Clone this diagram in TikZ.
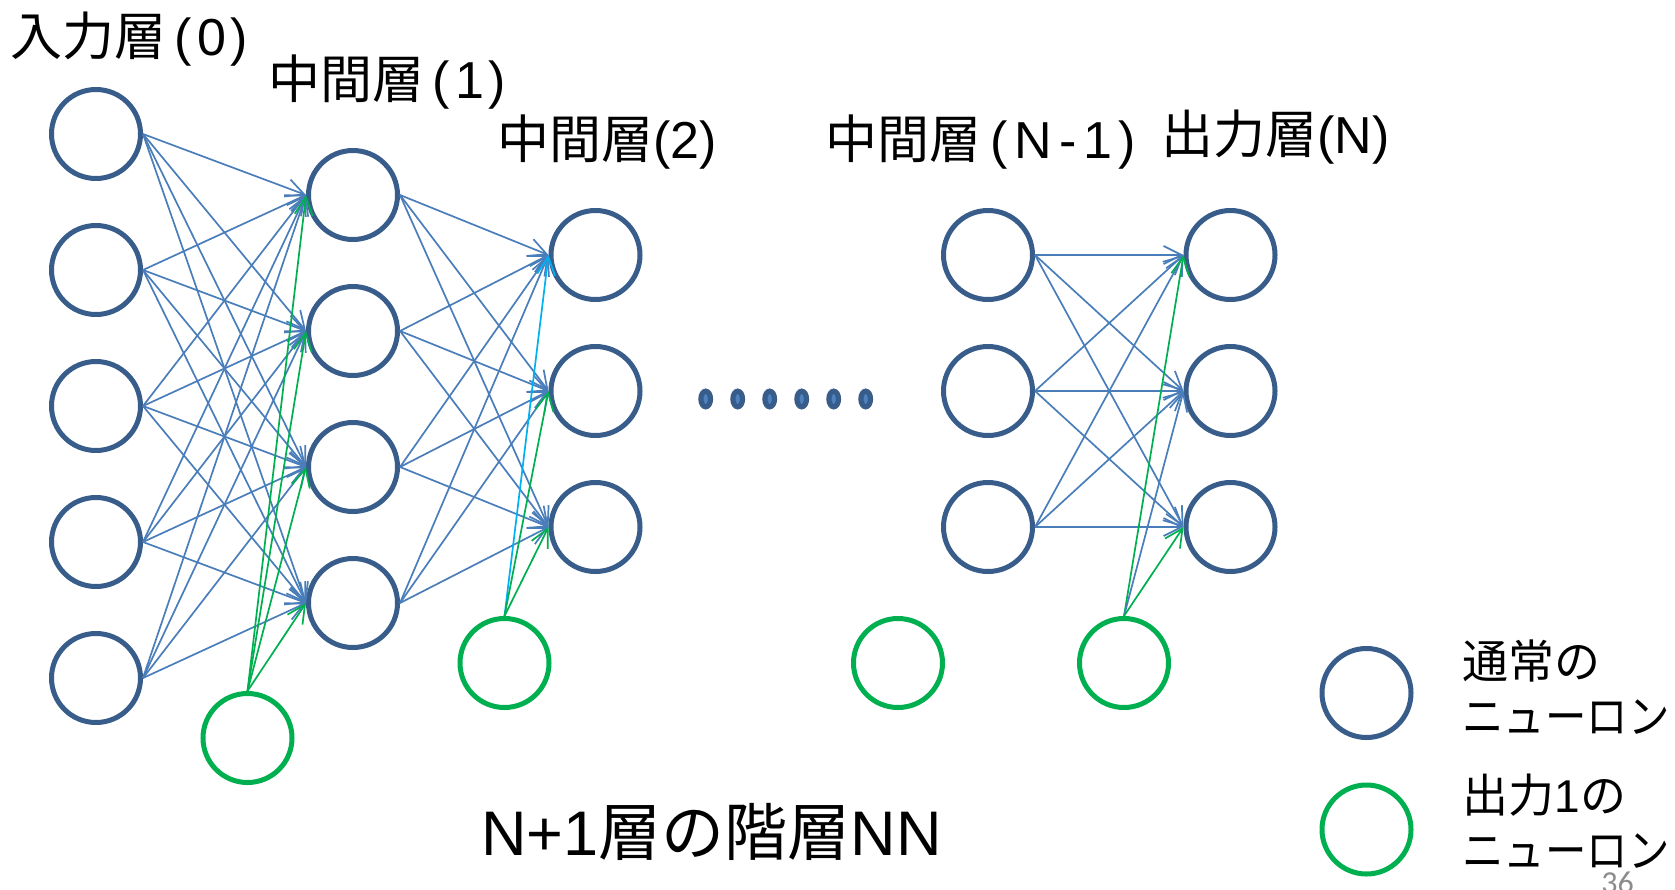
\documentclass[tikz,border=0pt]{standalone}
\usepackage{fontspec}
\usepackage{graphicx}
\setmainfont{Liberation Sans}
\newfontfamily\jp{Noto Sans CJK JP}
\newfontfamily\pagefont{Carlito}
\usetikzlibrary{arrows.meta}

\definecolor{nodeblue}{HTML}{385D8A}
\definecolor{lineblue}{HTML}{4A7EBB}
\definecolor{biasgreen}{HTML}{00B050}
\definecolor{skyblue}{HTML}{00B0F0}
\definecolor{dotfill}{HTML}{4F81BD}
\definecolor{pagegray}{HTML}{8C8C8C}

\begin{document}
\begin{tikzpicture}[x=0.5pt,y=-0.5pt,
  neuron/.style={circle, draw=nodeblue, line width=2.5pt, minimum size=44.5pt, inner sep=0pt},
  bias/.style={neuron, draw=biasgreen},
  conn/.style={draw=lineblue, line width=0.85pt, -{Straight Barb[length=9pt,width=9pt]}},
  gconn/.style={conn, draw=biasgreen},
  cconn/.style={conn, draw=skyblue},
  layertitle/.style={anchor=base west, inner sep=0pt, font=\fontsize{26}{30}\selectfont},
  legendtext/.style={anchor=base west, inner sep=0pt, font=\fontsize{23}{27}\selectfont},
  ellipsisdot/.style={fill=dotfill, draw=nodeblue, line width=2.6pt}
]
\useasboundingbox (0,0) rectangle (1675,889);
\fill[white] (0,0) rectangle (1675,889);

% layer titles
\node[layertitle] (t0) at (10,55) {{\jp 入力層}\kern.16em(\kern.1em0\kern.08em)};
\node[layertitle] (t1) at (268,98) {{\jp 中間層}\kern.16em(\kern.1em1\kern.08em)};
\node[layertitle] (t2) at (497,158) {{\jp 中間層}(2)};
\node[layertitle] (tn1) at (825,158) {{\jp 中間層}\kern.18em(\kern.13em N\kern.13em-\kern.13em1\kern.13em)};
\node[layertitle] (tn) at (1161,153) {{\jp 出力層}(N)};

% input layer
\foreach \k/\y in {1/134,2/270,3/406,4/542,5/678}
  \node[neuron] (in\k) at (96,\y) {};
% hidden layer 1
\foreach \k/\y in {1/195,2/331,3/467,4/603}
  \node[neuron] (ha\k) at (353,\y) {};
\node[bias] (ba) at (247.5,738) {};
% hidden layer 2
\foreach \k/\y in {1/255,2/391,3/527}
  \node[neuron] (hb\k) at (595.5,\y) {};
\node[bias] (bb) at (504.5,663) {};
% hidden layer N-1
\foreach \k/\y in {1/255,2/391,3/527}
  \node[neuron] (hn\k) at (988,\y) {};
\node[bias] (bn) at (898,663) {};
% output layer
\foreach \k/\y in {1/255,2/391,3/527}
  \node[neuron] (out\k) at (1230.5,\y) {};
\node[bias] (bo) at (1124,663) {};

% ellipsis between layers
\foreach \k in {0,...,5}
  \draw[ellipsisdot] (705.7+32*\k,399) ellipse [x radius=2.4pt, y radius=3.9pt];

% connections
\foreach \i in {1,...,5}
  \foreach \j in {1,...,4}
    \draw[conn] (in\i.east) -- (ha\j.west);
\foreach \j in {1,...,4}
  \draw[gconn] (ba.north) -- (ha\j.west);
\foreach \i in {1,...,4}
  \foreach \j in {1,...,3}
    \draw[conn] (ha\i.east) -- (hb\j.west);
\draw[cconn] (bb.north) -- (hb1.west);
\draw[gconn] (bb.north) -- (hb2.west);
\draw[gconn] (bb.north) -- (hb3.west);
\foreach \i in {1,...,3}
  \foreach \j in {1,...,3}
    \draw[conn] (hn\i.east) -- (out\j.west);
\draw[gconn] (bo.north) -- (out1.west);
\draw[conn] (bo.north) -- (out2.west);
\draw[gconn] (bo.north) -- (out3.west);

% caption
\node[anchor=base west, inner sep=0pt, font=\fontsize{31.5}{36}\selectfont] (cap) at (481,855) {N+1{\jp 層の階層}NN};

% legend
\node[neuron] (lgblue) at (1366.5,693) {};
\node[bias] (lggreen) at (1366.5,829.5) {};
\node[legendtext] (lg1) at (1462,678) {\jp 通常の};
\node[legendtext] (lg2) at (1462,733) {\scalebox{0.9}[1]{\jp ニューロン}};
\node[legendtext] (lg3) at (1462,812) {{\jp 出力}1{\jp の}};
\node[legendtext] (lg4) at (1462,867) {\scalebox{0.9}[1]{\jp ニューロン}};

% page number
\node[anchor=base west, inner sep=0pt, text=pagegray, font=\pagefont\fontsize{16}{18}\selectfont] (pg) at (1601,893) {36};
\end{tikzpicture}
\end{document}
